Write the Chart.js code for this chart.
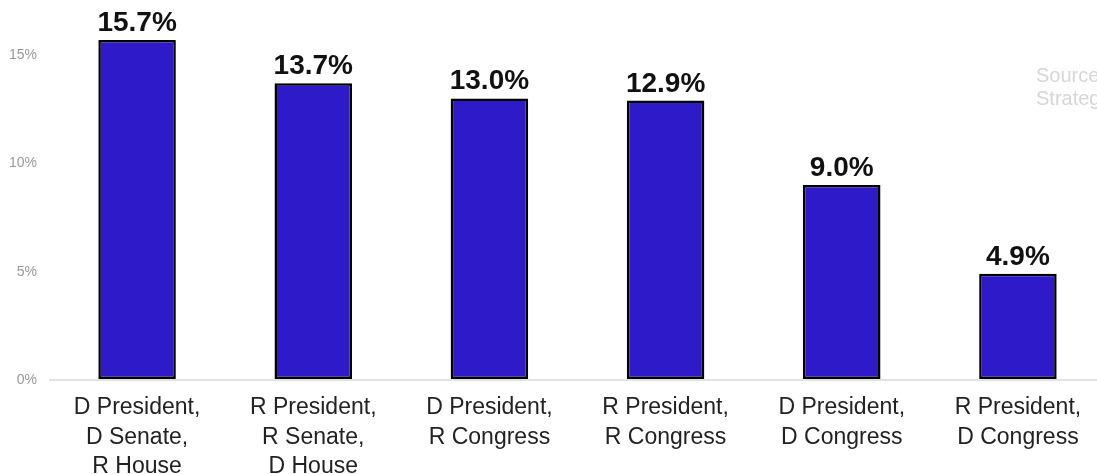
<!DOCTYPE html>
<html>
<head>
<meta charset="utf-8">
<script src="https://cdn.jsdelivr.net/npm/chart.js@4/dist/chart.umd.min.js"></script>
<style>
  html, body { margin: 0; padding: 0; background: #fff; overflow: hidden; }
  #wrap { position: relative; width: 1106px; height: 474px; }
</style>
</head>
<body>
<div id="wrap"><canvas id="c"></canvas></div>
<script>
const categories = [
  ["D President,", "D Senate,", "R House"],
  ["R President,", "R Senate,", "D House"],
  ["D President,", "R Congress"],
  ["R President,", "R Congress"],
  ["D President,", "D Congress"],
  ["R President,", "D Congress"]
];
const values = [15.7, 13.7, 13.0, 12.9, 9.0, 4.9];
const yTicks = [0, 5, 10, 15];
const sourceLines = ["Source:", "Strategas"];

const FONT = "'Liberation Sans', Arial, Helvetica, sans-serif";

const valueLabels = {
  id: 'valueLabels',
  afterDatasetsDraw(chart) {
    const ctx = chart.ctx;
    const meta = chart.getDatasetMeta(0);
    ctx.save();
    ctx.font = 'bold 28px ' + FONT;
    ctx.fillStyle = '#111';
    ctx.textAlign = 'center';
    ctx.textBaseline = 'alphabetic';
    meta.data.forEach((bar, i) => {
      ctx.fillText(values[i].toFixed(1) + '%', bar.x, bar.y - 9);
    });
    ctx.restore();
  }
};

const sourceNote = {
  id: 'sourceNote',
  afterDraw(chart) {
    const ctx = chart.ctx;
    ctx.save();
    ctx.font = '20px ' + FONT;
    ctx.fillStyle = '#d6d6d6';
    ctx.textAlign = 'left';
    ctx.textBaseline = 'alphabetic';
    sourceLines.forEach((t, i) => ctx.fillText(t, 1036, 82 + i * 23));
    ctx.restore();
  }
};

new Chart(document.getElementById('c'), {
  type: 'bar',
  data: {
    labels: categories,
    datasets: [{
      data: values,
      backgroundColor: '#2e1ac8',
      borderColor: '#000',
      borderWidth: 2.5,
      borderSkipped: false,
      barPercentage: 0.44,
      categoryPercentage: 1.0
    }]
  },
  options: {
    responsive: true,
    maintainAspectRatio: false,
    animation: false,
    layout: { padding: { top: 0, right: 0, bottom: 0, left: 0 } },
    plugins: { legend: { display: false }, tooltip: { enabled: false } },
    scales: {
      x: {
        grid: { display: false, drawTicks: false },
        border: { display: false },
        ticks: {
          color: '#222',
          font: { family: FONT, size: 23, lineHeight: 1.28 },
          padding: 13,
          maxRotation: 0,
          autoSkip: false
        },
        afterFit(scale) { scale.height = 94; }
      },
      y: {
        min: 0,
        max: 16.6,
        afterBuildTicks(scale) { scale.ticks = yTicks.map(v => ({ value: v })); },
        grid: {
          drawTicks: false,
          color: ctx => (ctx.tick && ctx.tick.value === 0) ? '#e2e2e2' : 'rgba(0,0,0,0)',
          lineWidth: 2
        },
        border: { display: false },
        ticks: {
          color: '#999',
          font: { family: FONT, size: 14 },
          padding: 12,
          callback: v => v + '%'
        },
        afterFit(scale) { scale.width = 49; }
      }
    }
  },
  plugins: [valueLabels, sourceNote]
});
</script>
</body>
</html>
